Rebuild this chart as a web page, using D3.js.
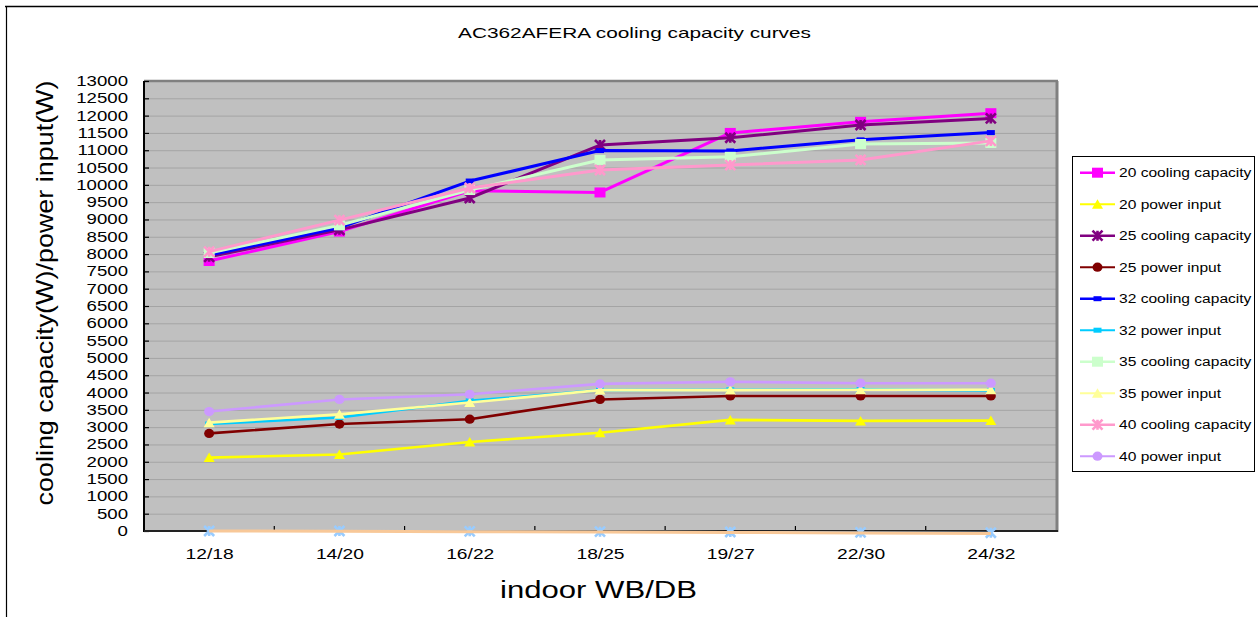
<!DOCTYPE html>
<html>
<head>
<meta charset="utf-8">
<script src="https://cdn.jsdelivr.net/npm/d3@7"></script>
<style>
html,body{margin:0;padding:0;background:#fff;}
svg{display:block;font-family:"Liberation Sans",Arial,sans-serif;}
</style>
</head>
<body>
<svg id="chart" width="1258" height="617"></svg>
<script>
const categories = ["12/18","14/20","16/22","18/25","19/27","22/30","24/32"];
const yTicks = [0,500,1000,1500,2000,2500,3000,3500,4000,4500,5000,5500,6000,6500,7000,7500,8000,8500,9000,9500,10000,10500,11000,11500,12000,12500,13000];

const cc20 = [7800, 8650, 9830, 9780, 11500, 11820, 12070];
const pi20 = [2120, 2210, 2570, 2840, 3210, 3180, 3190];
const cc25 = [7920, 8700, 9620, 11150, 11360, 11730, 11920];
const pi25 = [2820, 3090, 3230, 3800, 3900, 3900, 3900];
const cc32 = [7970, 8760, 10110, 10990, 10980, 11300, 11510];
const pi32 = [3090, 3280, 3760, 4070, 4080, 4090, 4060];
const cc35 = [8030, 8830, 9850, 10720, 10810, 11180, 11210];
const pi35 = [3130, 3370, 3710, 4070, 4070, 4080, 4080];
const cc40 = [8070, 8980, 9910, 10430, 10570, 10720, 11270];
const pi40 = [3450, 3800, 3950, 4250, 4310, 4270, 4270];
// unlabelled series lying on the zero line
const extra11 = [0, 0, -10, -20, -30, -40, -50];
const extra12 = [0, -10, -20, -30, -40, -60, -70];

const seriesNames = ["20 cooling capacity","20 power input","25 cooling capacity","25 power input",
  "32 cooling capacity","32 power input","35 cooling capacity","35 power input",
  "40 cooling capacity","40 power input"];
const seriesValues = [cc20, pi20, cc25, pi25, cc32, pi32, cc35, pi35, cc40, pi40];
const seriesColors = ["#FF00FF","#FFFF00","#800080","#800000","#0000FF","#00CCFF","#CCFFCC","#FFFF99","#FF99CC","#CC99FF"];
const seriesMarkers = ["square","triangle","star","circle","dash","dash","square","triangle","star","circle"];

const svg = d3.select("#chart");
const plot = {left:144, right:1056, top:81, bottom:531};

const x = d3.scalePoint().domain(categories).range([plot.left, plot.right]).padding(0.5);
const y = d3.scaleLinear().domain([0, 13000]).range([plot.bottom, plot.top]);

function stretch(sel, f){
  sel.each(function(){
    const l = this.getComputedTextLength();
    this.setAttribute("textLength", (l*f).toFixed(1));
    this.setAttribute("lengthAdjust","spacingAndGlyphs");
  });
}

// outer frame
svg.append("line").attr("x1",5).attr("x2",1258).attr("y1",6.5).attr("y2",6.5).attr("stroke","#000").attr("stroke-width",1.5);
svg.append("line").attr("x1",6.5).attr("x2",6.5).attr("y1",6).attr("y2",617).attr("stroke","#000").attr("stroke-width",1.2);

// plot area
svg.append("rect").attr("x",plot.left).attr("y",plot.top)
  .attr("width",plot.right-plot.left).attr("height",plot.bottom-plot.top).attr("fill","#C0C0C0");

// gridlines
svg.append("g").selectAll("line").data(yTicks.filter(d=>d>0 && d<13000)).join("line")
  .attr("x1",plot.left).attr("x2",plot.right).attr("y1",d=>y(d)+0.5).attr("y2",d=>y(d)+0.5)
  .attr("stroke","#A4A4A4").attr("stroke-width",1);

// 3D shadow border top/right
svg.append("line").attr("x1",plot.left).attr("x2",plot.right+2).attr("y1",plot.top).attr("y2",plot.top).attr("stroke","#808080").attr("stroke-width",2.5);
svg.append("line").attr("x1",plot.right+1).attr("x2",plot.right+1).attr("y1",plot.top).attr("y2",plot.bottom+1).attr("stroke","#808080").attr("stroke-width",3);

// y axis
const yAxis = d3.axisLeft(y).tickValues(yTicks).tickSizeInner(-5).tickSizeOuter(0).tickPadding(16).tickFormat(d3.format("d"));
const gy = svg.append("g").attr("transform",`translate(${plot.left},0)`).call(yAxis);
gy.select(".domain").remove();
gy.selectAll(".tick line").attr("stroke","#000").attr("stroke-width",1.2);
gy.selectAll(".tick text").attr("font-size",14).attr("fill","#000").attr("font-family","'Liberation Sans',Arial,sans-serif").call(stretch,1.33);

// x axis
const gx = svg.append("g").attr("transform",`translate(0,${plot.bottom})`).call(d3.axisBottom(x).tickSize(0).tickPadding(17));
gx.select(".domain").remove();
gx.selectAll(".tick text").attr("font-size",15).attr("fill","#000").attr("font-family","'Liberation Sans',Arial,sans-serif").call(stretch,1.28);
// ticks between categories
svg.append("g").selectAll("line").data(categories.slice(1)).join("line")
  .attr("x1",d=>x(d)-x.step()/2).attr("x2",d=>x(d)-x.step()/2)
  .attr("y1",plot.bottom).attr("y2",plot.bottom-5).attr("stroke","#000").attr("stroke-width",1.2);

// axis lines
svg.append("line").attr("x1",plot.left).attr("x2",plot.left).attr("y1",plot.top).attr("y2",plot.bottom+1).attr("stroke","#000").attr("stroke-width",2);
svg.append("line").attr("x1",plot.left).attr("x2",plot.right+2).attr("y1",plot.bottom).attr("y2",plot.bottom).attr("stroke","#222").attr("stroke-width",2);

// marker drawing
function marker(g, type, color, cx, cy){
  if(type==="square"){
    g.append("rect").attr("x",cx-5.5).attr("y",cy-5).attr("width",11).attr("height",10).attr("fill",color);
  } else if(type==="triangle"){
    g.append("path").attr("d",`M${cx},${cy-5}L${cx+5.5},${cy+4.5}L${cx-5.5},${cy+4.5}Z`).attr("fill",color);
  } else if(type==="circle"){
    g.append("ellipse").attr("cx",cx).attr("cy",cy).attr("rx",5).attr("ry",4.6).attr("fill",color);
  } else if(type==="dash"){
    g.append("rect").attr("x",cx-4).attr("y",cy-2.5).attr("width",8).attr("height",5).attr("fill",color);
  } else if(type==="star"){
    g.append("path").attr("d",`M${cx-5},${cy-5}L${cx+5},${cy+5}M${cx+5},${cy-5}L${cx-5},${cy+5}M${cx},${cy-5}L${cx},${cy+5}`)
      .attr("stroke",color).attr("stroke-width",2.6).attr("fill","none");
  }
}

const line = d3.line().x((d,i)=>x(categories[i])).y(d=>y(d));
const series = svg.append("g");
seriesValues.forEach((vals, s)=>{
  const g = series.append("g");
  g.append("path").attr("d", line(vals)).attr("fill","none").attr("stroke",seriesColors[s])
    .attr("stroke-width", s%2===0 ? 3 : 2.6).attr("stroke-linejoin","round");
  vals.forEach((v,i)=>marker(g, seriesMarkers[s], seriesColors[s], x(categories[i]), y(v)));
});
// extra unlabeled series near zero
{
  const g = series.append("g");
  g.append("path").attr("d", line(extra11)).attr("fill","none").attr("stroke","#99CCFF").attr("stroke-width",2);
  extra11.forEach((v,i)=>marker(g,"star","#99CCFF",x(categories[i]),y(v)));
  g.append("path").attr("d", line(extra12)).attr("fill","none").attr("stroke","#F8C898").attr("stroke-width",3);
}

// title
svg.append("text").attr("x",634.5).attr("y",37.5).attr("text-anchor","middle").attr("font-size",15).attr("fill","#000")
  .attr("textLength",353).attr("lengthAdjust","spacingAndGlyphs").text("AC362AFERA cooling capacity curves");

// axis titles
svg.append("text").attr("transform","translate(53,293) rotate(-90)").attr("text-anchor","middle").attr("font-size",24).attr("fill","#000")
  .attr("textLength",425).attr("lengthAdjust","spacingAndGlyphs").text("cooling capacity(W)/power input(W)");
svg.append("text").attr("x",598.5).attr("y",598).attr("text-anchor","middle").attr("font-size",23).attr("fill","#000")
  .attr("textLength",197).attr("lengthAdjust","spacingAndGlyphs").text("indoor WB/DB");

// legend
const leg = svg.append("g");
leg.append("rect").attr("x",1072.5).attr("y",156.5).attr("width",182).attr("height",315).attr("fill","#fff").attr("stroke","#000").attr("stroke-width",1);
seriesNames.forEach((name,s)=>{
  const cy = 172.7 + s*31.5;
  const g = leg.append("g");
  g.append("line").attr("x1",1080).attr("x2",1115).attr("y1",cy).attr("y2",cy).attr("stroke",seriesColors[s]).attr("stroke-width", s%2===0?2.6:2);
  marker(g, seriesMarkers[s], seriesColors[s], 1097.5, cy);
  g.append("text").attr("x",1119).attr("y",cy+4.5).attr("font-size",12.5).attr("fill","#000").text(name).call(stretch,1.245);
});
</script>
</body>
</html>
